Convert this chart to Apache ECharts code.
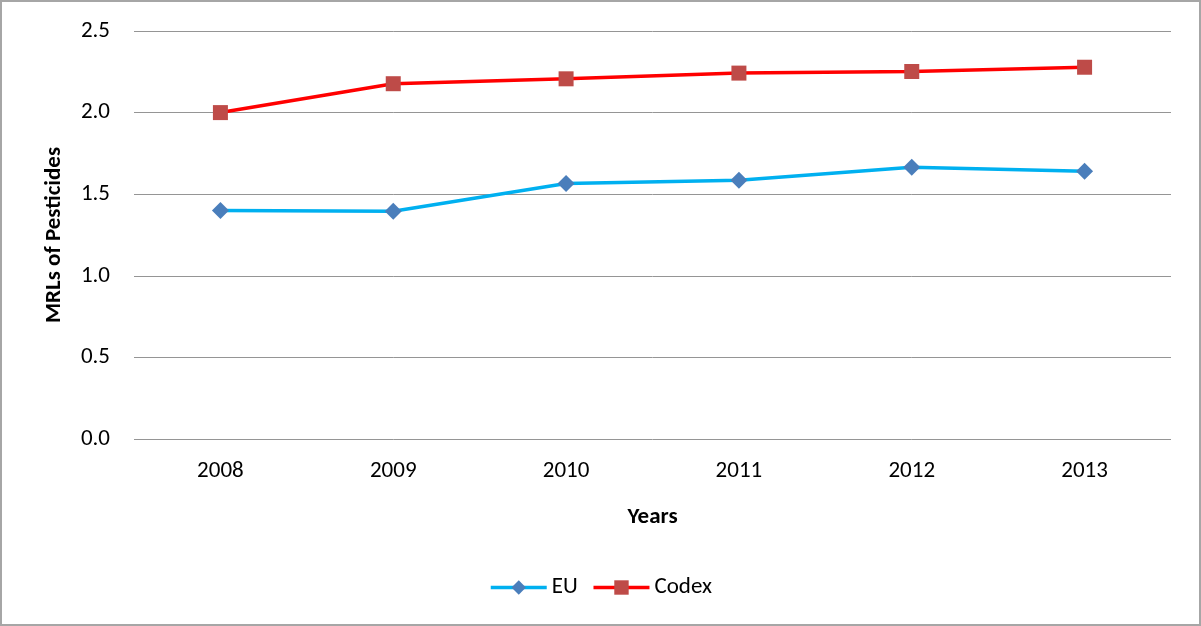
<!DOCTYPE html>
<html>
<head>
<meta charset="utf-8">
<script src="https://cdn.jsdelivr.net/npm/echarts@6/dist/echarts.min.js"></script>
<style>
  html, body { margin: 0; padding: 0; background: #fff; }
  #chart { width: 1201px; height: 626px; box-sizing: border-box; border: 2px solid #a6a6a6; }
</style>
</head>
<body>
<div id="chart"></div>
<script>
// categories and values
const years = ['2008', '2009', '2010', '2011', '2012', '2013']
const eu = [1.40, 1.395, 1.565, 1.585, 1.665, 1.64]
const codex = [2.00, 2.177, 2.207, 2.242, 2.252, 2.278]

const font = 'Carlito, Lato, "Open Sans", sans-serif'
const mychart = echarts.init(document.getElementById('chart'))
const option = {
  animation: false,
  textStyle: { fontFamily: font },
  grid: {
    left: 132,
    right: 28,
    top: 29,
    bottom: 185
  },
  legend: {
    bottom: 20,
    left: 'center',
    itemWidth: 56,
    itemHeight: 18,
    itemGap: 14,
    lineStyle: { width: 3.5 },
    textStyle: { fontSize: 23, color: '#000', fontFamily: font },
    data: ['EU', 'Codex']
  },
  xAxis: {
    type: 'category',
    data: years,
    boundaryGap: true,
    name: 'Years',
    nameLocation: 'middle',
    nameGap: 67,
    nameTextStyle: { fontSize: 23, fontWeight: 'bold', color: '#000' },
    axisLine: { show: false },
    axisTick: { show: false },
    axisLabel: { fontSize: 23, color: '#000', margin: 21 }
  },
  yAxis: {
    type: 'value',
    min: 0,
    max: 2.5,
    interval: 0.5,
    name: 'MRLs of Pesticides',
    nameLocation: 'middle',
    nameGap: 68,
    nameTextStyle: { fontSize: 23, fontWeight: 'bold', color: '#000' },
    axisLine: { show: false },
    axisTick: { show: false },
    axisLabel: {
      fontSize: 23,
      color: '#000',
      margin: 24,
      formatter: v => v.toFixed(1)
    },
    splitLine: { lineStyle: { color: '#959595', width: 1 } }
  },
  series: [
    {
      name: 'EU',
      type: 'line',
      data: eu,
      symbol: 'diamond',
      symbolSize: 17,
      itemStyle: { color: '#4a7ebb' },
      lineStyle: { color: '#00b0f0', width: 3.5 }
    },
    {
      name: 'Codex',
      type: 'line',
      data: codex,
      symbol: 'rect',
      symbolSize: 15,
      itemStyle: { color: '#be4b48' },
      lineStyle: { color: '#ff0000', width: 3.5 }
    }
  ]
}
mychart.setOption(option)
</script>
</body>
</html>
